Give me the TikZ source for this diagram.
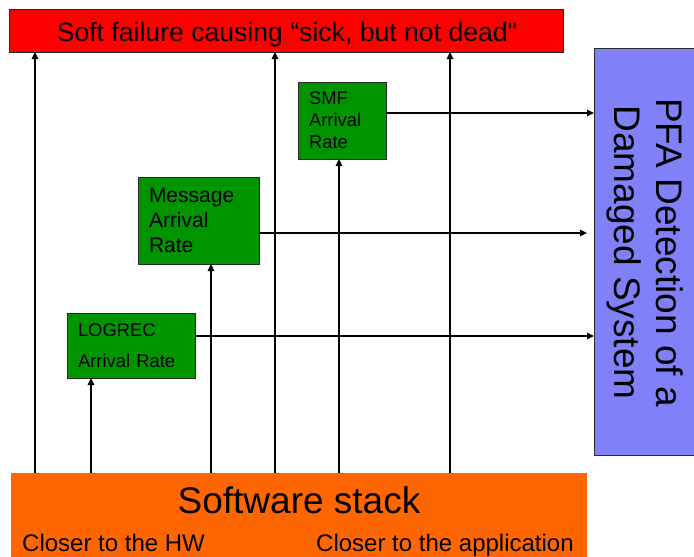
\documentclass[tikz,border=0pt]{standalone}
\usepackage{fontspec}
\setmainfont{Liberation Sans}
% same face without the TeX quote mapping, for the straight closing quote
\newfontfamily\rawsans{Liberation Sans}
\usetikzlibrary{arrows.meta}
\definecolor{failred}{RGB}{255,0,0}
\definecolor{pfablue}{RGB}{128,128,248}
\definecolor{rategreen}{RGB}{0,148,0}
\definecolor{stackorange}{RGB}{255,102,0}
\definecolor{edgegray}{RGB}{40,40,40}
\begin{document}
\begin{tikzpicture}[x=1pt,y=-1pt,
  box/.style={draw=edgegray, line width=0.9pt, anchor=north west, inner sep=0pt, outer sep=0pt},
  ratebox/.style={box, fill=rategreen, align=left, inner xsep=11pt},
  arr/.style={line width=1.4pt, -{Triangle[length=7pt,width=6.5pt]}},
]
\useasboundingbox (0,0) rectangle (694,557);

% top: the failure being detected
\node[box, fill=failred, minimum width=554pt, minimum height=43pt] (soft) at (9,9) {};
\node[inner sep=0pt, anchor=base, font=\fontsize{26.6}{31}\selectfont] (softtext) at (287,41)
      {Soft failure causing “sick, but not dead{\rawsans"}};

% right: the detector
\node[box, fill=pfablue, minimum width=110pt, minimum height=407pt] (pfa) at (594,48) {};
\node[rotate=-90, align=center, font=\fontsize{37}{42}\selectfont] (pfatext) at (645,252.5)
      {PFA Detection of a\\Damaged System};

% bottom: the software stack
\node[fill=stackorange, anchor=north west, inner sep=0pt, outer sep=0pt,
      minimum width=576pt, minimum height=90pt] (stack) at (11,473) {};
\node[anchor=base, inner sep=0pt, font=\fontsize{37}{42}\selectfont] (stacktitle) at (299,513) {Software stack};
\node[anchor=base west, inner sep=0pt, font=\fontsize{24}{28}\selectfont] (hwend) at (22,551) {Closer to the HW};
\node[anchor=base west, inner sep=0pt, font=\fontsize{24}{28}\selectfont] (append) at (316,551) {Closer to the application};

% arrival-rate metrics
\node[ratebox, text width=66pt, minimum height=77pt, font=\fontsize{18.4}{22}\selectfont] (smf) at (298,82)
      {SMF\\Arrival\\Rate};
\node[ratebox, text width=99pt, minimum height=87pt, font=\fontsize{21}{25}\selectfont] (msg) at (138,177)
      {Message\\Arrival\\Rate};
\node[ratebox, text width=106pt, minimum height=65pt, font=\fontsize{18.4}{31}\selectfont] (logrec) at (67,313)
      {LOGREC\\Arrival Rate};

% columns of the upward connectors
\coordinate (c1) at (35,0);
\coordinate (c2) at (91,0);
\coordinate (c3) at (211,0);
\coordinate (c4) at (275,0);
\coordinate (c5) at (339,0);
\coordinate (c6) at (450,0);
% rows of the connectors into the detector
\coordinate (r1) at (0,113);
\coordinate (r2) at (0,233);
\coordinate (r3) at (0,336);
\coordinate (msgend) at (587,233);

\draw[arr] (stack.north -| c1) -- (soft.south -| c1);
\draw[arr] (stack.north -| c2) -- (logrec.south -| c2);
\draw[arr] (stack.north -| c3) -- (msg.south -| c3);
\draw[arr] (stack.north -| c4) -- (soft.south -| c4);
\draw[arr] (stack.north -| c5) -- (smf.south -| c5);
\draw[arr] (stack.north -| c6) -- (soft.south -| c6);

\draw[arr] (smf.east |- r1) -- (pfa.west |- r1);
\draw[arr] (msg.east |- r2) -- (msgend);
\draw[arr] (logrec.east |- r3) -- (pfa.west |- r3);
\end{tikzpicture}
\end{document}
